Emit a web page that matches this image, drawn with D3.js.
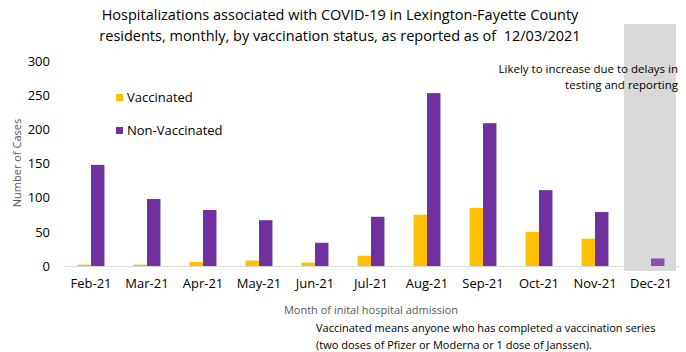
<!DOCTYPE html>
<html>
<head>
<meta charset="utf-8">
<script src="https://cdn.jsdelivr.net/npm/d3@7"></script>
<style>
  body { margin: 0; background: #fff; }
  svg { font-family: "Open Sans", "Liberation Sans", sans-serif; }
  text { white-space: pre; }
</style>
</head>
<body>
<div id="chart"></div>
<script>
// data
const months = ["Feb-21", "Mar-21", "Apr-21", "May-21", "Jun-21", "Jul-21", "Aug-21", "Sep-21", "Oct-21", "Nov-21", "Dec-21"]
const vaccinated = [2, 2, 6, 8, 5, 15, 75, 85, 50, 40, 0]
const nonVaccinated = [148, 98, 82, 67, 34, 72, 253, 209, 111, 79, 11]
const series = ["Vaccinated", "Non-Vaccinated"]
const yTicks = [0, 50, 100, 150, 200, 250, 300]
const shadedMonth = "Dec-21"

const width = 686
const height = 352
const margin = {top: 61, right: 7, bottom: 86, left: 63}
const colors = {"Vaccinated": "#FFC000", "Non-Vaccinated": "#7030A0"}

const svg = d3.select("#chart")
  .append("svg")
    .attr("width", width)
    .attr("height", height)

// schalen
const x = d3.scaleBand()
  .domain(months)
  .range([margin.left, width - margin.right])

const xInner = d3.scaleBand()
  .domain(series)
  .range([x.bandwidth() * 0.26, x.bandwidth() * 0.74])

const y = d3.scaleLinear()
  .domain([0, 300])
  .range([height - margin.bottom, margin.top])

// grijs vlak voor de laatste maand
svg.append("rect")
  .attr("x", x(shadedMonth) + 1)
  .attr("y", 24)
  .attr("width", x.bandwidth() - 4)
  .attr("height", y(0) - 24 + 5)
  .attr("fill", "#d9d9d9")

// titel
const title = svg.append("text")
  .attr("text-anchor", "middle")
  .attr("font-size", 14.5)
  .attr("fill", "#000")
title.append("tspan").attr("x", 340).attr("y", 20)
  .text("Hospitalizations associated with COVID-19 in Lexington-Fayette County")
title.append("tspan").attr("x", 340).attr("y", 41)
  .text("residents, monthly, by vaccination status, as reported as of  12/03/2021")

// y-as
const yAxis = svg.append("g")
  .attr("transform", "translate(" + margin.left + ",0)")
  .call(d3.axisLeft(y).tickValues(yTicks).tickSize(0).tickPadding(13))
yAxis.select(".domain").remove()
yAxis.selectAll("text")
  .attr("font-size", 13)
  .attr("font-family", "Open Sans, sans-serif")
  .attr("fill", "#000")

// x-as
const xAxis = svg.append("g")
  .attr("transform", "translate(0," + y(0) + ")")
  .call(d3.axisBottom(x).tickSize(0).tickPadding(13))
xAxis.select(".domain").attr("stroke", "#d9d9d9").attr("stroke-width", 1.2)
xAxis.selectAll("text")
  .attr("font-size", 13)
  .attr("font-family", "Open Sans, sans-serif")
  .attr("fill", "#000")

// bars
const rows = months.map(function(m, i) {
  return {month: m, values: [
    {key: "Vaccinated", value: vaccinated[i]},
    {key: "Non-Vaccinated", value: nonVaccinated[i]}
  ]}
})

svg.append("g")
  .selectAll("g")
  .data(rows)
  .enter()
  .append("g")
    .attr("transform", function(d) { return "translate(" + x(d.month) + ",0)" })
    .attr("opacity", function(d) { return d.month === shadedMonth ? 0.8 : 1 })
  .selectAll("rect")
  .data(function(d) { return d.values })
  .enter()
  .append("rect")
    .attr("x", function(d) { return xInner(d.key) })
    .attr("y", function(d) { return y(d.value) })
    .attr("width", xInner.bandwidth())
    .attr("height", function(d) { return y(0) - y(d.value) })
    .attr("fill", function(d) { return colors[d.key] })

// legenda
const legend = svg.append("g")
  .selectAll("g")
  .data(series)
  .enter()
  .append("g")
    .attr("transform", function(d, i) { return "translate(116," + (94 + i * 33) + ")" })
legend.append("rect")
  .attr("width", 7)
  .attr("height", 7)
  .attr("fill", function(d) { return colors[d] })
legend.append("text")
  .attr("x", 11)
  .attr("y", 8)
  .attr("font-size", 13)
  .attr("fill", "#000")
  .text(function(d) { return d })

// as titels
svg.append("text")
  .attr("transform", "translate(21,163) rotate(-90)")
  .attr("text-anchor", "middle")
  .attr("font-size", 11)
  .attr("fill", "#595959")
  .text("Number of Cases")

svg.append("text")
  .attr("x", 371)
  .attr("y", 314)
  .attr("text-anchor", "middle")
  .attr("font-size", 11)
  .attr("fill", "#595959")
  .text("Month of inital hospital admission")

// opmerkingen
const note = svg.append("text")
  .attr("font-size", 11)
  .attr("fill", "#000")
note.append("tspan").attr("x", 316).attr("y", 332)
  .text("Vaccinated means anyone who has completed a vaccination series")
note.append("tspan").attr("x", 316).attr("y", 349)
  .text("(two doses of Pfizer or Moderna or 1 dose of Janssen).")

const delay = svg.append("text")
  .attr("text-anchor", "end")
  .attr("font-size", 11.5)
  .attr("fill", "#000")
delay.append("tspan").attr("x", 678).attr("y", 73)
  .text("Likely to increase due to delays in")
delay.append("tspan").attr("x", 678).attr("y", 89)
  .text("testing and reporting")
</script>
</body>
</html>
